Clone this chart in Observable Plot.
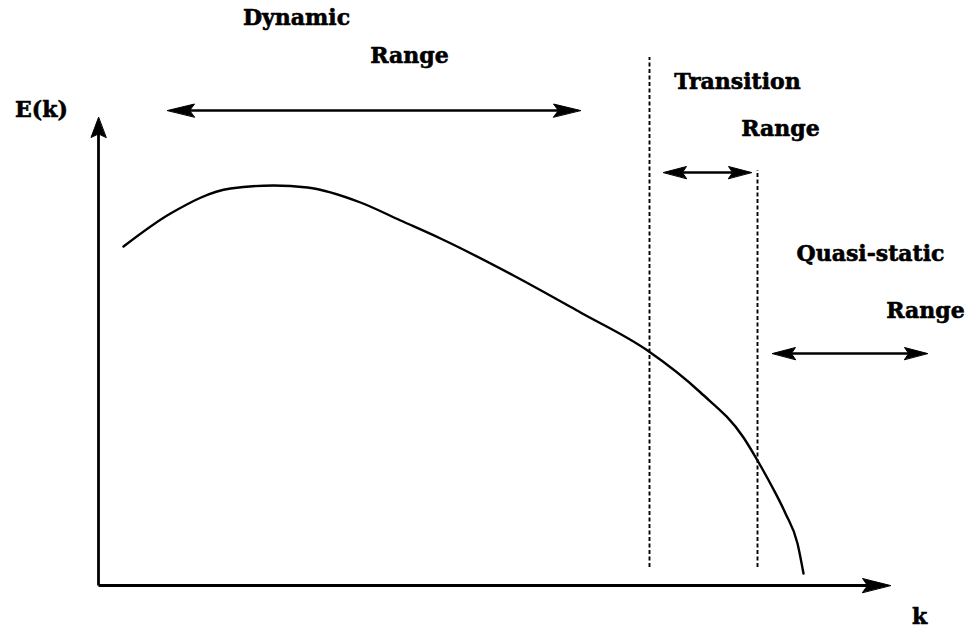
<!DOCTYPE html>
<html><head><meta charset="utf-8">
<script src="https://cdn.jsdelivr.net/npm/d3@7"></script>
<script src="https://cdn.jsdelivr.net/npm/@observablehq/plot@0.6"></script>
<style>html,body{margin:0;padding:0;background:#fff}svg{display:block}</style>
</head><body><div id="chart"></div>
<script>
// ---- Schematic energy spectrum E(k) (arbitrary units) ----
const curveK = [25, 72, 132, 175, 209, 262, 302, 342, 415, 482, 549, 602, 645, 659, 674, 687, 699, 705];
const curveE = [339, 372, 397, 400, 398, 383, 365, 347, 310, 273, 235, 193, 148, 125, 98, 72, 42, 12];

// ---- range boundaries (dashed verticals) ----
const boundaryK = [551, 659];
const boundaryTop = [528, 415];
const boundaryBottom = 18;

// ---- range arrows ----
const rangeNames = ["Dynamic", "Transition", "Quasi-static"];
const rangeStart = [69, 565, 674];
const rangeEnd = [482, 653, 829];
const rangeLevel = [475, 413, 232];

// ---- axes extents ----
const axisKMax = 792;
const axisEMax = 468;

// ---- text labels ----
const labelText = ["Dynamic", "Range", "Transition", "Range", "Quasi-static", "Range", "E(k)", "k"];
const labelK = [198, 311, 639, 682, 772, 827, -57, 821];
const labelE = [561, 523, 497, 450, 325, 268, 469, -38];

// ---- build tables ----
const curve = curveK.map((k, i) => ({k, E: curveE[i]}));
const boundaries = boundaryK.map((k, i) => ({k, top: boundaryTop[i], bottom: boundaryBottom}));
const labels = labelText.map((t, i) => ({t, k: labelK[i], E: labelE[i]}));

// arrowhead triangles (sizes in px; scales are 1 unit = 1 px)
const heads = [];
const shafts = [];
let hid = 0;
function addArrow(x1, y1, x2, y2, L, W, both) {
  const dx = x2 - x1, dy = y2 - y1, len = Math.hypot(dx, dy);
  const ux = dx / len, uy = dy / len, px = -uy, py = ux;
  const tri = (tx, ty, sx, sy) => {
    const bx = tx - sx * L, by = ty - sy * L;
    const id = hid++;
    heads.push({id, x: tx, y: ty});
    heads.push({id, x: bx + px * W, y: by + py * W});
    heads.push({id, x: tx - sx * L * 0.82, y: ty - sy * L * 0.82});
    heads.push({id, x: bx - px * W, y: by - py * W});
    return [tx - sx * L * 0.82, ty - sy * L * 0.82];
  };
  const end = tri(x2, y2, ux, uy);
  const start = both ? tri(x1, y1, -ux, -uy) : [x1, y1];
  shafts.push({x1: start[0], y1: start[1], x2: end[0], y2: end[1]});
}
const headSize = [[27, 6.5], [23, 6], [23, 6]];
rangeNames.forEach((n, i) => addArrow(rangeStart[i], rangeLevel[i], rangeEnd[i], rangeLevel[i], headSize[i][0], headSize[i][1], true));
const axisShafts = [];
function addAxis(x2, y2, L, W) {
  addArrow(0, 0, x2, y2, L, W, false);
  axisShafts.push(shafts.pop());
}
addAxis(axisKMax, 0, 28, 7);
addAxis(0, axisEMax, 20, 7.5);

const font = {fontFamily: "'DejaVu Serif', 'Liberation Serif', serif", fontWeight: "bold", fontSize: 22};

const chart = Plot.plot({
  width: 970,
  height: 628,
  margin: 0,
  x: {domain: [-98, 872], range: [0, 970], axis: null},
  y: {domain: [-43, 585], range: [628, 0], axis: null},
  marks: [
    Plot.ruleX(boundaries, {x: "k", y1: "bottom", y2: "top", stroke: "black", strokeWidth: 1.9, strokeDasharray: "4,2.5"}),
    Plot.link(axisShafts, {x1: "x1", y1: "y1", x2: "x2", y2: "y2", stroke: "black", strokeWidth: 2.8}),
    Plot.link(shafts, {x1: "x1", y1: "y1", x2: "x2", y2: "y2", stroke: "black", strokeWidth: 2.4}),
    Plot.line(heads, {x: "x", y: "y", z: "id", fill: "black", stroke: "black", strokeWidth: 1, curve: "linear-closed"}),
    Plot.line(curve, {x: "k", y: "E", curve: "monotone-x", stroke: "black", strokeWidth: 2.4}),
    Plot.text(labels, {x: "k", y: "E", text: "t", textAnchor: "middle", lineAnchor: "bottom", fill: "black", stroke: "black", strokeWidth: 0.6, ...font})
  ]
});
document.getElementById("chart").appendChild(chart);
</script>
</body></html>
